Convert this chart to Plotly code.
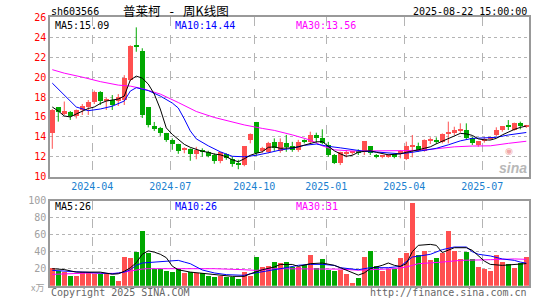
import plotly.graph_objects as go

W, H = 545, 300

# ---------------- data ----------------
opens = [14.3, 16.97, 16.35, 16.43, 16.1, 16.7, 16.97, 17.5, 18.5, 17.6,
         17.7, 17.6, 17.7, 19.7, 23.2, 22.6, 16.93, 15.1, 14.85, 14.35,
         13.6, 13.2, 12.6, 12.75, 12.2, 12.6, 12.45, 12.15, 11.5, 12.2,
         11.75, 11.25, 11.1, 13.6, 15.5, 12.5, 12.4, 13.42, 12.5, 13.3,
         13.0, 12.68, 13.55, 13.42, 14.1, 13.85, 13.18, 12.18, 11.34, 12.25,
         12.38, 12.51, 12.51, 13.01, 12.18, 11.94, 11.98, 12.2, 12.4, 11.74,
         12.9, 13.08, 12.58, 13.6, 13.62, 13.42, 14.29, 14.35, 14.62, 14.69,
         13.85, 13.11, 13.62, 13.8, 14.19, 14.69, 15.09, 14.69, 15.36, 15.02]
highs = [16.8, 17.0, 17.55, 16.6, 16.75, 17.3, 17.7, 18.65, 18.6, 17.95,
         18.2, 18.3, 20.2, 23.2, 25.0, 22.9, 17.0, 15.5, 15.0, 14.4,
         13.85, 13.3, 12.95, 12.85, 13.0, 12.85, 12.6, 12.35, 12.5, 12.35,
         12.0, 11.7, 13.0, 14.35, 15.5, 13.0, 13.5, 13.85, 13.85, 14.2,
         13.5, 13.7, 13.75, 14.52, 14.42, 14.76, 13.5, 12.28, 12.51, 12.68,
         12.6, 12.75, 13.58, 13.08, 12.28, 12.15, 12.3, 12.3, 12.68, 13.52,
         14.19, 13.42, 13.75, 13.95, 13.95, 14.35, 15.53, 15.02, 15.36, 15.36,
         14.02, 13.58, 13.95, 14.0, 14.96, 15.09, 15.69, 15.43, 15.53, 15.2]
lows = [12.8, 15.53, 16.2, 15.7, 15.85, 16.2, 16.2, 17.3, 17.2, 16.7,
        16.7, 17.1, 17.2, 19.6, 22.55, 15.9, 14.95, 14.6, 14.1, 13.5,
        12.7, 12.3, 12.35, 11.6, 11.75, 12.0, 11.95, 11.3, 11.35, 11.7,
        11.0, 10.75, 11.05, 13.35, 12.1, 12.4, 12.35, 12.6, 12.4, 12.5,
        12.5, 12.5, 13.35, 13.35, 13.35, 13.25, 12.0, 11.27, 11.17, 11.94,
        12.2, 12.18, 12.18, 12.18, 11.85, 11.85, 11.9, 11.85, 11.84, 11.67,
        11.94, 12.51, 12.51, 13.28, 13.28, 13.35, 13.35, 14.19, 14.42, 13.75,
        13.18, 13.01, 13.42, 13.7, 14.09, 14.52, 14.69, 14.62, 14.76, 14.9]
closes = [16.7, 16.43, 16.55, 16.1, 16.7, 17.1, 17.5, 18.44, 17.6, 17.8,
          17.2, 18.0, 19.9, 23.1, 23.05, 16.2, 15.2, 14.75, 14.35, 13.6,
          13.2, 12.5, 12.85, 12.2, 12.6, 12.45, 12.0, 11.5, 12.4, 11.85,
          11.2, 11.2, 13.0, 14.2, 12.35, 12.85, 13.35, 12.85, 13.42, 12.9,
          12.68, 13.42, 13.45, 14.19, 13.85, 13.35, 12.18, 11.34, 12.41, 12.35,
          12.51, 12.41, 13.52, 12.35, 11.94, 12.08, 12.08, 12.0, 12.51, 13.08,
          13.15, 12.58, 13.68, 13.65, 13.45, 14.29, 14.35, 14.69, 14.76, 13.85,
          13.35, 13.52, 13.75, 13.95, 14.62, 15.02, 14.96, 15.36, 15.02, 15.19]
volumes = [21.2, 18, 16, 12, 12, 17, 17, 14, 14, 14,
           12, 6.3, 34.5, 32.5, 40.4, 64.3, 38.4, 20, 20, 17.3,
           16, 20, 14.9, 16.9, 14.9, 14.9, 12.2, 10.2, 12.2, 10.2,
           10.2, 7.8, 16.1, 12.2, 34.5, 22.7, 23.9, 27.8, 26.7, 27.8,
           22, 22, 25.1, 36.9, 21.2, 31.8, 18.8, 17.3, 18.8, 14.1,
           3.1, 9, 34.5, 41.6, 23.5, 18, 19.6, 19.6, 33.3, 38.4,
           97.3, 36.9, 41.6, 30.6, 33.3, 38.4, 65.1, 41.6, 32.2, 40.4,
           32.2, 22.7, 19.6, 18, 36.9, 28.6, 25.9, 21.6, 26.7, 34.5]

ma5 = [17.0, 16.6, 16.1, 16.0, 16.3, 16.6, 16.85, 17.0, 17.35, 17.6,
       17.7, 17.8, 18.1, 19.7, 20.1, 19.9, 19.3, 18.3, 16.8, 14.9,
       14.25, 13.7, 13.25, 12.95, 12.72, 12.55, 12.45, 12.27, 12.2, 12.0,
       11.7, 11.5, 11.8, 12.15, 12.35, 12.5, 12.95, 13.0, 12.85, 12.85,
       12.9, 13.0, 13.15, 13.3, 13.5, 13.52, 13.05, 12.6, 12.3, 12.05,
       12.15, 12.45, 12.55, 12.6, 12.45, 12.3, 12.2, 12.25, 12.3, 12.45,
       12.55, 12.7, 12.85, 13.0, 13.3, 13.55, 13.85, 14.1, 14.35, 14.3,
       14.15, 13.8, 13.7, 13.68, 13.85, 14.2, 14.5, 14.75, 14.95, 15.09]
ma10_x = [0, 2, 4, 6, 8, 10, 12, 13, 14, 16, 18, 20, 21, 22, 23, 24, 26, 28, 30, 32,
          34, 36, 38, 40, 42, 44, 46, 48, 50, 52, 54, 56, 58, 60, 62, 64, 66, 68, 70, 72,
          74, 76, 78, 79]
ma10_y = [19.4, 18.2, 17.0, 16.63, 16.8, 17.08, 17.6, 18.6, 18.94, 18.65,
          18.1, 17.4, 16.9, 15.8, 14.6, 13.8, 13.1, 12.5, 12.05, 12.0,
          12.15, 12.4, 12.68, 12.85, 13.15, 13.28, 13.05, 12.9, 12.7, 12.55,
          12.48, 12.38, 12.3, 12.45, 12.62, 12.85, 13.2, 13.6, 13.85, 13.88,
          13.95, 14.19, 14.35, 14.44]
ma30_x = [0, 2, 5, 8, 11, 13, 15, 18, 21, 24, 27, 30, 32, 35, 37, 40, 43, 45, 47, 50,
          53, 56, 59, 62, 65, 67, 70, 73, 76, 79]
ma30_y = [20.75, 20.4, 20.0, 19.55, 19.2, 19.1, 18.85, 18.3, 17.45, 16.55,
          15.95, 15.5, 15.2, 14.85, 14.65, 14.2, 13.68, 13.1, 12.7, 12.58,
          12.58, 12.6, 12.62, 12.68, 12.87, 13.0, 13.08, 13.1, 13.35, 13.56]

vma5_x = [0, 2, 4, 6, 8, 10, 11, 12, 13, 14, 15, 16, 17, 18, 19, 20, 21, 23, 25, 28,
          30, 32, 33, 35, 37, 38, 40, 41, 43, 45, 47, 48, 50, 51, 52, 53, 55, 56, 57, 58,
          59, 60, 61, 63, 64, 65, 66, 67, 69, 70, 72, 73, 75, 77, 79]
vma5_y = [20, 19, 16, 16, 16, 13.5, 14, 17, 21, 27, 37, 41, 39.5, 37, 33, 23, 18.7, 16, 14.5, 12.2,
          11, 11, 14, 18.8, 22, 25, 25, 22.7, 25.9, 26.7, 23.9, 21.2, 16, 12.5, 15, 20, 24, 26.7, 24, 22.7,
          25.9, 40, 47.5, 48.6, 47.5, 39, 41.8, 44.7, 44.7, 41.6, 29, 25.1, 23.9, 25.1, 26]
vma10_x = [0, 2, 5, 8, 10, 11, 12, 13, 14, 15, 17, 19, 21, 22, 23, 25, 27, 29, 31, 32,
           33, 35, 37, 39, 41, 43, 45, 47, 48, 51, 53, 56, 58, 60, 62, 63, 65, 67, 69, 70,
           71, 73, 75, 77, 78, 79]
vma10_y = [18, 17, 16, 14.9, 14.1, 15, 16, 18.8, 24, 26.7, 27.8, 29, 29.8, 27.8, 25.9, 18.5, 15, 13, 12.2, 12.2,
           14, 16, 18.8, 21.2, 24, 25.1, 25.1, 23.9, 21.2, 18.8, 21.2, 21.2, 22.7, 33.7, 35.7, 36.9, 42.4, 45.5, 45.5, 40,
           37, 35, 31.5, 29.8, 27.8, 26.5]
vma30_x = [0, 3, 6, 9, 11, 12, 13, 14, 15, 16, 19, 21, 27, 32, 34, 37, 43, 48, 51, 53,
           57, 59, 61, 65, 68, 73, 77, 79]
vma30_y = [13.3, 14.1, 14.9, 14.5, 14.5, 16, 17.5, 19, 19.6, 20, 20, 20, 20, 18.8, 18, 20, 20, 19.5, 18.2, 18.8,
           20, 22, 25.9, 27.8, 29.8, 30.6, 31.5, 31]

month_pos = [6.67, 19.67, 33.67, 45.67, 58.67, 71.67]
month_labels = ["2024-04", "2024-07", "2024-10", "2025-01", "2025-04", "2025-07"]
price_ticks = [10, 12, 14, 16, 18, 20, 22, 24, 26]
vol_ticks = [20, 40, 60, 80, 100]

# ---------------- styling ----------------
RED = "#ff5050"
GREEN = "#00a800"
MONO = "DejaVu Sans Mono"
CJK = "Noto Sans CJK SC"
GRID = "#b4b4b4"
FRAME = "#999999"
FS = 10


def px(x):
    return x / W


def py(y):
    return 1 - y / H


idx = list(range(len(closes)))
up = [c >= o for o, c in zip(opens, closes)]
colors = [RED if u else GREEN for u in up]
bases = []
heights = []
for o, c in zip(opens, closes):
    lo, hi = min(o, c), max(o, c)
    if hi - lo < 0.1:
        lo, hi = (lo + hi) / 2 - 0.05, (lo + hi) / 2 + 0.05
    bases.append(lo)
    heights.append(hi - lo)

fig = go.Figure()

for flag, col in ((True, RED), (False, GREEN)):
    wx, wy = [], []
    for i in idx:
        if up[i] == flag:
            wx += [i, i, None]
            wy += [lows[i], highs[i], None]
    fig.add_trace(go.Scatter(x=wx, y=wy, mode="lines", line=dict(color=col, width=1),
                             hoverinfo="skip", showlegend=False, xaxis="x", yaxis="y"))

fig.add_trace(go.Bar(x=idx, y=heights, base=bases, width=0.78, marker=dict(color=colors, line=dict(width=0)),
                     showlegend=False, xaxis="x", yaxis="y"))

fig.add_trace(go.Scatter(x=ma30_x, y=ma30_y, mode="lines", line=dict(color="#ff00ff", width=1),
                         showlegend=False, xaxis="x", yaxis="y"))
fig.add_trace(go.Scatter(x=ma10_x, y=ma10_y, mode="lines", line=dict(color="#0000ff", width=1),
                         showlegend=False, xaxis="x", yaxis="y"))
fig.add_trace(go.Scatter(x=idx, y=ma5, mode="lines", line=dict(color="#000000", width=1),
                         showlegend=False, xaxis="x", yaxis="y"))

fig.add_trace(go.Bar(x=idx, y=volumes, width=0.82, marker=dict(color=colors, line=dict(width=0)),
                     showlegend=False, xaxis="x2", yaxis="y2"))
fig.add_trace(go.Scatter(x=vma30_x, y=vma30_y, mode="lines", line=dict(color="#ff00ff", width=1),
                         showlegend=False, xaxis="x2", yaxis="y2"))
fig.add_trace(go.Scatter(x=vma10_x, y=vma10_y, mode="lines", line=dict(color="#0000ff", width=1),
                         showlegend=False, xaxis="x2", yaxis="y2"))
fig.add_trace(go.Scatter(x=vma5_x, y=vma5_y, mode="lines", line=dict(color="#000000", width=1),
                         showlegend=False, xaxis="x2", yaxis="y2"))

xdom = [px(50), px(529)]
xrange_ = [-0.38, 79.45]
common_x = dict(domain=xdom, range=xrange_, tickvals=month_pos, showgrid=True, gridcolor=GRID,
                griddash="dash", gridwidth=1, showline=True, mirror=True, linecolor=FRAME,
                linewidth=1.5, ticks="", zeroline=False, fixedrange=True, automargin=False)

fig.update_layout(
    width=W, height=H, autosize=False, margin=dict(l=0, r=0, t=0, b=0, pad=0, autoexpand=False),
    paper_bgcolor="white", plot_bgcolor="white", bargap=0, barmode="overlay",
    showlegend=False,
    xaxis=dict(**common_x, anchor="y", ticktext=month_labels,
               tickfont=dict(family=MONO, size=FS, color="#1a7fcf")),
    yaxis=dict(domain=[py(176.7), py(17.4)], range=[10, 26], tickvals=price_ticks,
               ticktext=[str(t) for t in price_ticks], showgrid=True, gridcolor=GRID,
               griddash="dot", showline=True, mirror=True, linecolor=FRAME, linewidth=1.5,
               ticks="", zeroline=False, tickfont=dict(family=MONO, size=FS, color="#ff0000"),
               anchor="x", automargin=False),
    xaxis2=dict(**common_x, anchor="y2", showticklabels=False),
    yaxis2=dict(domain=[py(285.7), py(200.7)], range=[0, 100], tickvals=vol_ticks,
                ticktext=[str(t) for t in vol_ticks], showgrid=True, gridcolor=GRID,
                griddash="dot", showline=True, mirror=True, linecolor=FRAME, linewidth=1.5,
                ticks="", zeroline=False, tickfont=dict(family=MONO, size=FS, color="#a0a0a0"),
                anchor="x2", automargin=False),
)


def note(text, x, y, color="#000000", size=FS, family=MONO, xanchor="left", **kw):
    fig.add_annotation(text=text, x=px(x), y=py(y), xref="paper", yref="paper",
                       xanchor=xanchor, yanchor="middle", showarrow=False,
                       font=dict(family=family, size=size, color=color), **kw)


note("sh603566", 49, 11.5)
note("普莱柯<span style='font-family:DejaVu Sans Mono'> - </span>周K线图", 121, 11, size=12.5, family=CJK)
note("2025-08-22 15:00:00", 529, 11.5, xanchor="right")
note("MA5:15.09", 53, 25.5)
note("MA10:14.44", 173, 25.5, color="#0000ff")
note("MA30:13.56", 294, 25.5, color="#ff00ff")
note("MA5:26", 53, 207)
note("MA10:26", 173, 207, color="#0000ff")
note("MA30:31", 294, 207, color="#ff00ff")
note("x万", 46, 287, color="#a0a0a0", size=9, family=CJK, xanchor="right")
note("Copyright 2025 SINA.COM", 49, 292.5, color="#666666")
note("http://finance.sina.com.cn", 529, 292.5, color="#666666", xanchor="right")
note("◉", 509, 150.5, color="#f0a8a8", size=9, family="DejaVu Sans", xanchor="center")
note("<b><i>sina</i></b>", 513, 168, color="#b8b8b8", size=14, family="Liberation Sans", xanchor="center")

fig.write_html("out.html", config={"displayModeBar": False},
               post_script="document.body.style.margin='0';document.body.style.overflow='hidden';")
